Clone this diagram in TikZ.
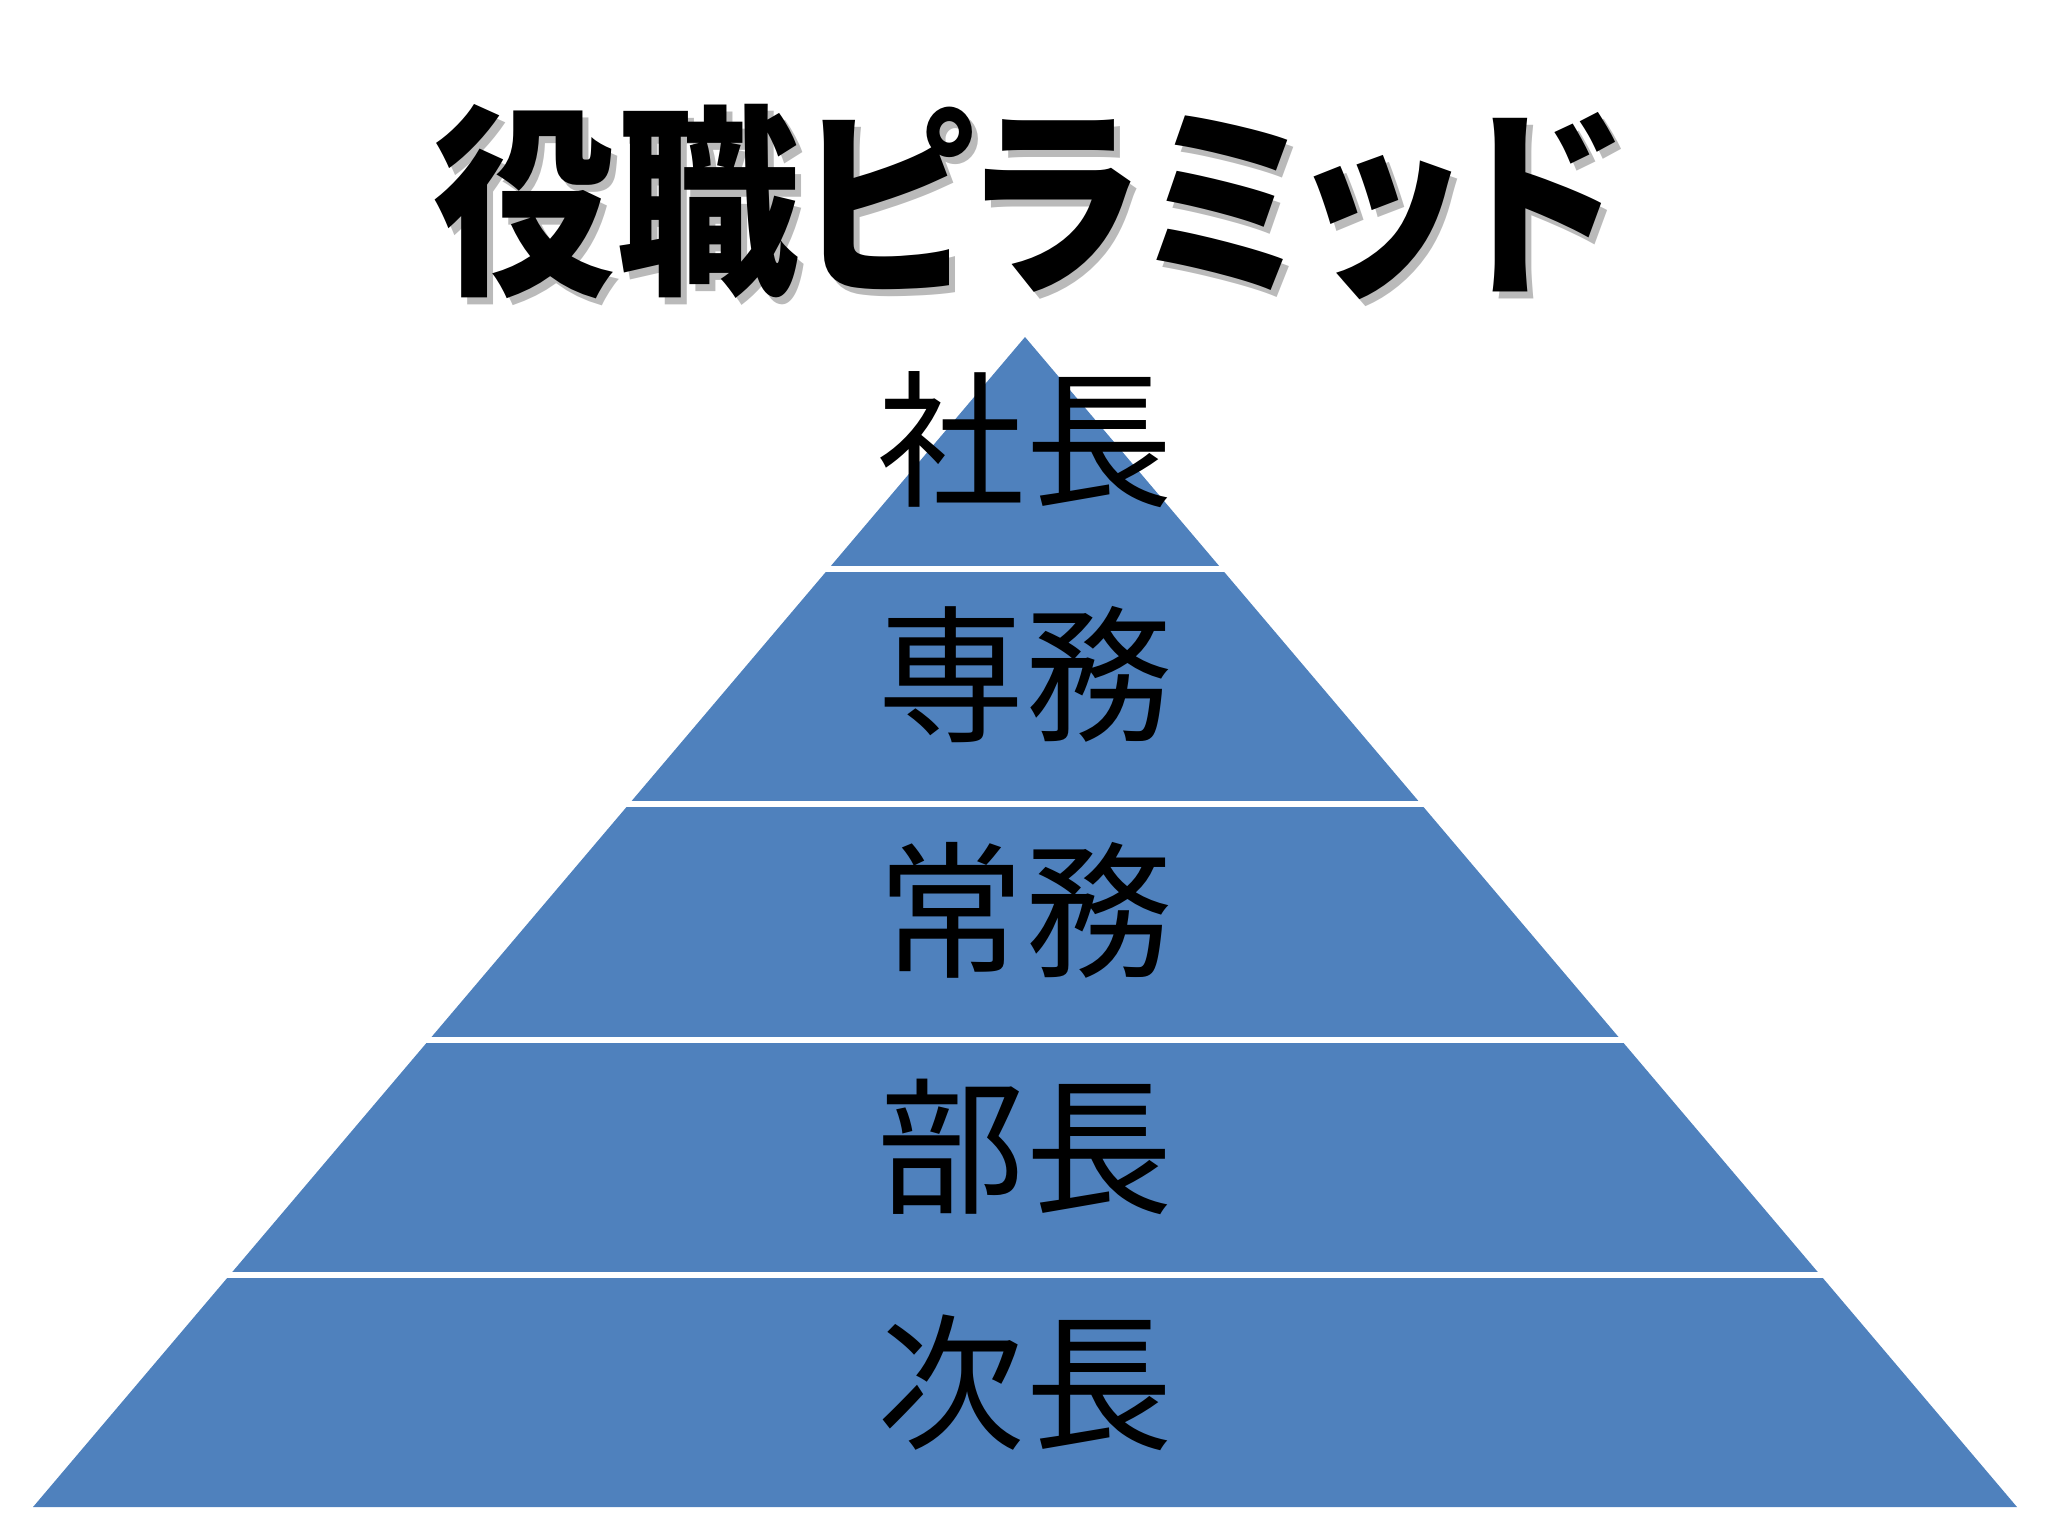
\documentclass[tikz,border=0pt]{standalone}
\usepackage{fontspec}
\newfontfamily\labelfont{Noto Sans CJK JP}
\newfontfamily\titlefont[RawFeature=+palt]{Noto Sans CJK JP}
\usetikzlibrary{calc}
\definecolor{pyrblue}{RGB}{79,129,189}
\tikzset{
  rank/.style={font=\labelfont\fontsize{42}{42}\selectfont, text=black, inner sep=0pt},
  gap/.style={draw=white, line width=0.6mm, shorten <=-8pt, shorten >=-8pt},
  headline/.style={font=\titlefont\bfseries\fontsize{58}{58}\selectfont, inner sep=0pt, xscale=0.9}
}
\begin{document}
\begin{tikzpicture}[x=0.1mm,y=-0.1mm]
  \useasboundingbox (0,0) rectangle (2048,1536);
  % title with drop shadow
  \node[headline, text=black!45, opacity=0.6] (titleshadow) at (1033,209) {役職ピラミッド};
  \node[headline, text=black] (title) at (1027,202) {役職ピラミッド};
  % pyramid
  \coordinate (top) at (1025,337);
  \coordinate (bl) at (33,1507);
  \coordinate (br) at (2017,1507);
  \fill[pyrblue] (top) -- (bl) -- (br) -- cycle;
  \foreach \t in {0.198,0.399,0.601,0.802}
    \draw[gap] ($(top)!\t!(bl)$) -- ($(top)!\t!(br)$);
  % ranks
  \node[rank] (president) at (1025,440) {社長};
  \node[rank] (senior) at (1025,675) {専務};
  \node[rank] (managing) at (1025,910) {常務};
  \node[rank] (director) at (1025,1147) {部長};
  \node[rank] (deputy) at (1025,1383) {次長};
\end{tikzpicture}
\end{document}
